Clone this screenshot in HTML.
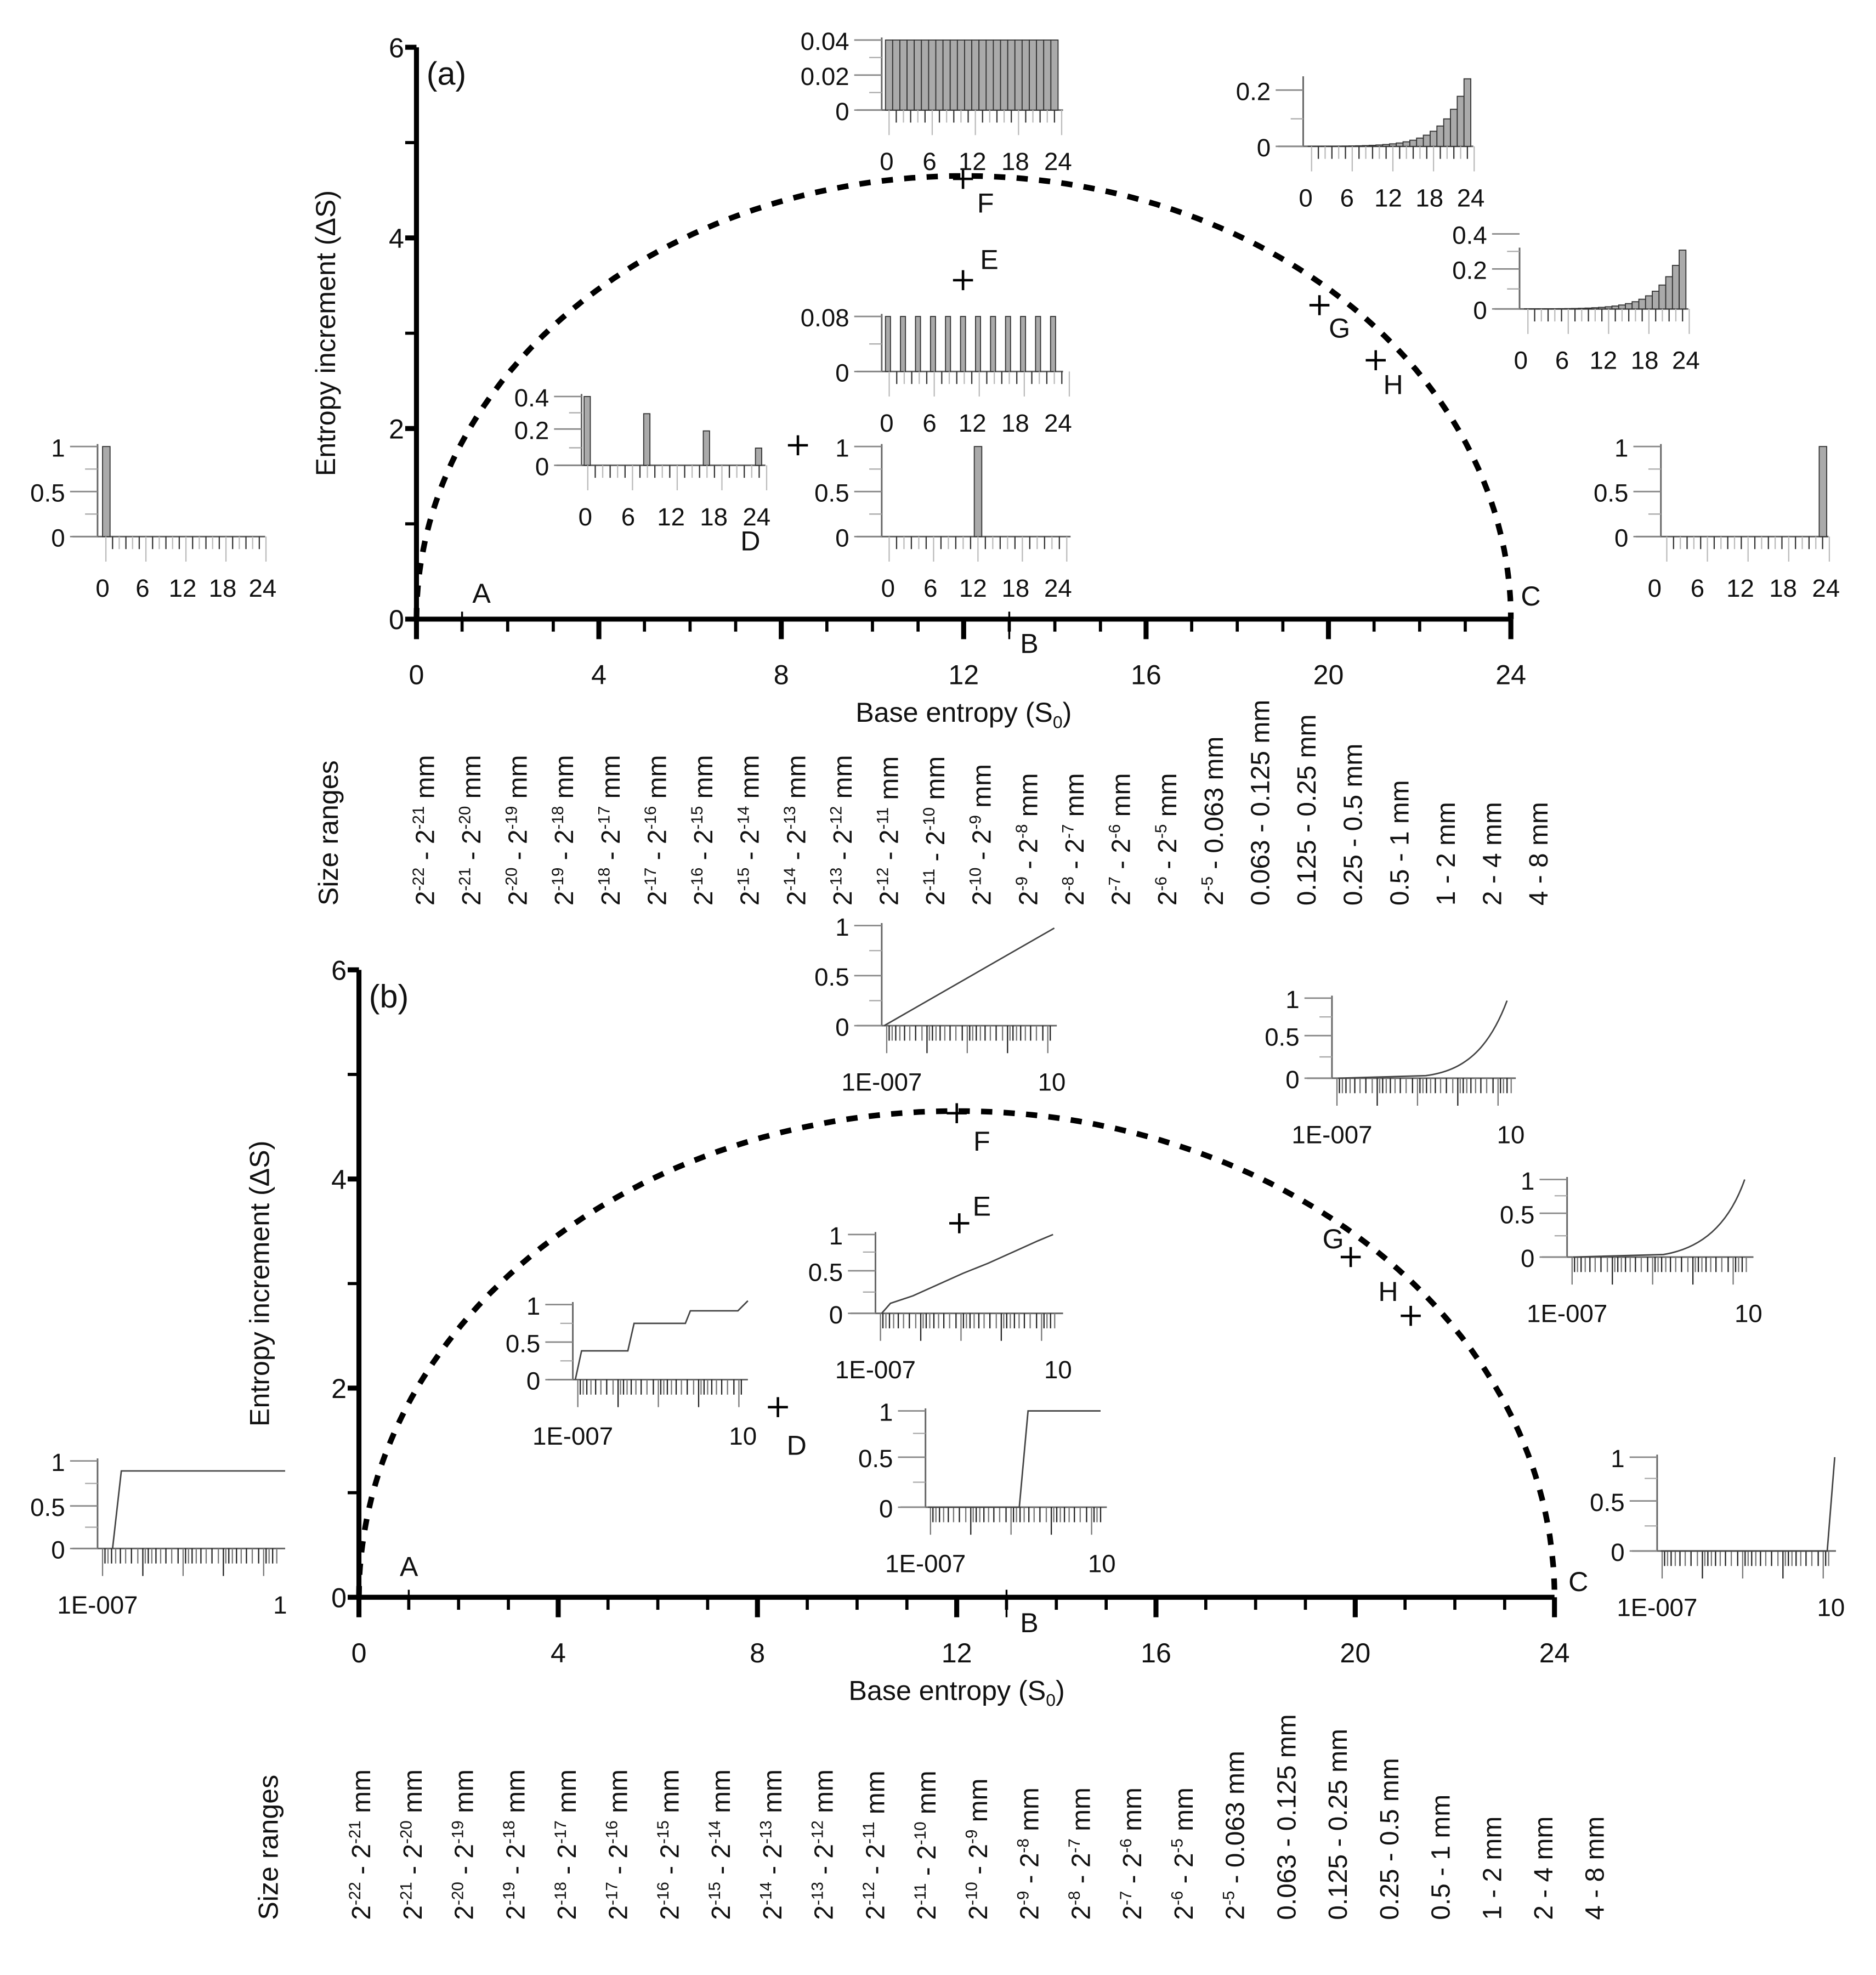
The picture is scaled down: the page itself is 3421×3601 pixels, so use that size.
<!DOCTYPE html>
<html><head><meta charset="utf-8"><style>
html,body{margin:0;padding:0;background:#fff;}
svg{display:block;}
text{font-family:"Liberation Sans",sans-serif;fill:#111;}
</style></head><body>
<svg id="s" width="3421" height="3601" viewBox="0 0 1500 1579" preserveAspectRatio="none" xmlns="http://www.w3.org/2000/svg"></svg>
<script>
const s=document.getElementById('s');let h='';
function T(x,y,t,sz,anc,extra){h+=`<text x="${x}" y="${y}" font-size="${sz||22}" text-anchor="${anc||'middle'}" ${extra||''}>${t}</text>`;}
function L(x1,y1,x2,y2,w,c){h+=`<line x1="${x1}" y1="${y1}" x2="${x2}" y2="${y2}" stroke="${c||'#000'}" stroke-width="${w||1}"/>`;}
function panel(o){
 const X=v=>o.x0+v*o.sx, Y=v=>o.y0-v*o.sy;
 // dashed curve (ellipse)
 let p='';for(let i=0;i<=200;i++){const t=Math.PI*i/200;const xx=12-12*Math.cos(t);const yy=4.65*Math.sin(t);p+=(i?'L':'M')+X(xx).toFixed(1)+' '+Y(yy).toFixed(1);}
 h+=`<path d="${p}" fill="none" stroke="#000" stroke-width="4.5" stroke-dasharray="9 9"/>`;
 L(o.x0,Y(6),o.x0,o.y0+2,4);L(o.x0-2,o.y0,X(24),o.y0,4);
 for(let v=0;v<=6;v++){L(o.x0-9,Y(v),o.x0,Y(v),v%2?2.5:4);if(v%2==0)T(o.x0-16,Y(v)+8,v,22,'middle');}
 for(let v=0;v<=24;v++){L(X(v),o.y0,X(v),o.y0+(v%4?10:16),v%4?2.5:4);if(v%4==0)T(X(v),o.y0+52,v,22);}
 L(X(1),o.y0-6,X(1),o.y0,1.5);L(X(13),o.y0-6,X(13),o.y0+16,1.5);
 T(o.x0+8,Y(6)+30,o.lab,26,'start');
 T(o.ly,(Y(6)+o.y0)/2,'Entropy increment (ΔS)',22,'middle',`transform="rotate(-90 ${o.ly} ${(Y(6)+o.y0)/2})"`);
 T(X(12),o.y0+82,'Base entropy (S<tspan font-size="14" dy="5">0</tspan><tspan dy="-5">)</tspan>',22);
 // size ranges
 const labs=[];for(let i=22;i>=7;i--)labs.push(`2<tspan font-size="13" dy="-8">-${i}</tspan><tspan dy="8"> - 2</tspan><tspan font-size="13" dy="-8">-${i-1}</tspan><tspan dy="8"> mm</tspan>`);
 labs.push('2<tspan font-size="13" dy="-8">-6</tspan><tspan dy="8"> - 2</tspan><tspan font-size="13" dy="-8">-5</tspan><tspan dy="8"> mm</tspan>');
 labs.push('2<tspan font-size="13" dy="-8">-5</tspan><tspan dy="8"> - 0.063 mm</tspan>');
 ['0.063 - 0.125 mm','0.125 - 0.25 mm','0.25 - 0.5 mm','0.5 - 1 mm','1 - 2 mm','2 - 4 mm','4 - 8 mm'].forEach(a=>labs.push(a));
 T(o.sr,o.sb,'Size ranges',22,'start',`transform="rotate(-90 ${o.sr} ${o.sb})"`);
 labs.forEach((a,i)=>{const x=o.s0+i*o.ss;T(x,o.sb,a,21,'start',`transform="rotate(-90 ${x} ${o.sb})"`);});
 o.pts.forEach(q=>{const [px,py,l,lx,ly]=q;L(px-8,py,px+8,py,2);L(px,py-8,px,py+8,2);if(l)T(lx,ly,l,22);});
}
panel({x0:333,y0:495,sx:36.46,sy:76.2,lab:'(a)',ly:268,sr:270,sb:724,s0:347,ss:37.1,
 pts:[[770,143,'F',788,170],[770,224,'E',791,215],[1055,244,'G',1071,270],[1100,288,'H',1114,315],[638,356,'D',600,440],[0,0,'A',385,482],[0,0,'B',823,522],[0,0,'C',1224,484]].filter(p=>p[0])});
// letters A B C
T(385,482,'A',22);T(823,522,'B',22);T(1224,484,'C',22);
panel({x0:287,y0:1277,sx:39.83,sy:83.6,lab:'(b)',ly:215,sr:222,sb:1535,s0:296,ss:41.1,
 pts:[[765,890,'F',785,920],[767,978,'E',785,972],[1080,1005,'G',1066,998],[1128,1052,'H',1110,1040],[622,1125,'D',637,1163]]});
T(327,1260,'A',22);T(823,1305,'B',22);T(1262,1272,'C',22);

// insets
function inset(c){
 const g='#666';
 L(c.ax,c.yt-2,c.ax,c.y0,1.3,g);L(c.ax-20,c.y0,c.x1,c.y0,1.3,g);
 c.yl.forEach(a=>{L(c.ax-22,a[1],c.ax,a[1],1.2,'#888');T(c.ax-26,a[1]+8,a[0],20,'end');});
 if(c.ym)c.ym.forEach(y=>L(c.ax-10,y,c.ax,y,1,'#aaa'));
 if(c.bars){
  const w=(c.bx1-c.bx0)/24;
  c.bars.forEach((v,i)=>{if(v<=0)return;const hh=v*(c.y0-c.yt)/c.vmax;h+=`<rect x="${c.bx0+i*w}" y="${c.y0-hh}" width="${(c.bw||w)}" height="${hh}" fill="#aaa" stroke="#333" stroke-width="0.8"/>`;});
  for(let i=0;i<=24;i++){const x=c.bx0+i*w+w/2;L(x,c.y0,x,c.y0+(i%6==0?20:10),1,i%2?'#333':'#bbb');}
  [0,6,12,18,24].forEach((v,i)=>T(c.lx0+(c.lx1-c.lx0)*i/4,c.y0+48,v,20));
 } else {
  // log ticks
  const n=c.x1-c.ax-8;let x=c.ax+4;let k=0;
  while(x<c.x1-3){const long=(k%9==0);L(x,c.y0,x,c.y0+(long?22:12),1,k%2?'#222':'#777');k++;x+= (k%9==0)?4:(1.5+(k%9)*0.45);}
  h+=`<path d="${c.path}" fill="none" stroke="#444" stroke-width="1.2"/>`;
  T(c.ax,c.y0+52,'1E-007',20);T(c.x1-4,c.y0+52,c.end||'10',20);
 }
}
const uni=Array(24).fill(1);
const exp=[...Array(24)].map((_,i)=>Math.pow(1.35,i)/Math.pow(1.35,23));
// panel a insets
inset({ax:78,x1:212,yt:357,y0:429,yl:[[1,357],[0.5,393],[0,429]],ym:[375,411],bars:[1].concat(Array(23).fill(0)),vmax:1,bx0:82,bx1:210,bw:6,lx0:82,lx1:210});
inset({ax:705,x1:850,yt:32,y0:88,yl:[['0.04',32],['0.02',60],[0,88]],ym:[46,74],bars:uni,vmax:1,bx0:708,bx1:846,lx0:709,lx1:846});
inset({ax:1042,x1:1178,yt:63,y0:117,yl:[['0.2',72],[0,117]],ym:[95],bars:exp,vmax:1,bx0:1046,bx1:1176,lx0:1044,lx1:1176});
inset({ax:1215,x1:1350,yt:200,y0:247,yl:[['0.4',187],['0.2',215],[0,247]],ym:[201,231],bars:exp,vmax:1,bx0:1219,bx1:1348,lx0:1216,lx1:1348});
inset({ax:705,x1:850,yt:253,y0:297,yl:[['0.08',253],[0,297]],ym:[275],bars:uni.map((v,i)=>i%2?0:1),vmax:1,bx0:708,bx1:852,bw:4,lx0:709,lx1:846});
inset({ax:465,x1:612,yt:317,y0:372,yl:[['0.4',317],['0.2',343],[0,372]],ym:[330,358],bars:uni.map((v,i)=>i==0?.4:i==8?.3:i==16?.2:i==23?.1:0),vmax:.4,bx0:467,bx1:610,bw:5,lx0:468,lx1:605});
inset({ax:705,x1:856,yt:357,y0:429,yl:[[1,357],['0.5',393],[0,429]],ym:[375,411],bars:uni.map((v,i)=>i==12?1:0),vmax:1,bx0:708,bx1:850,bw:6,lx0:710,lx1:846});
inset({ax:1328,x1:1462,yt:357,y0:429,yl:[[1,357],['0.5',393],[0,429]],ym:[375,411],bars:uni.map((v,i)=>i==23?1:0),vmax:1,bx0:1330,bx1:1460,bw:6,lx0:1323,lx1:1460});
// panel b insets
inset({ax:78,x1:228,yt:1168,y0:1238,yl:[[1,1168],['0.5',1204],[0,1238]],ym:[1186,1221],path:'M90 1238 L97 1176 L228 1176',end:'1'});
inset({ax:705,x1:845,yt:740,y0:820,yl:[[1,740],['0.5',780],[0,820]],ym:[760,800],path:'M707 820 L843 742'});
inset({ax:1065,x1:1212,yt:798,y0:862,yl:[[1,798],['0.5',828],[0,862]],ym:[813,845],path:'M1070 862 L1140 860 C1170 856 1190 840 1205 800'});
inset({ax:1253,x1:1402,yt:943,y0:1005,yl:[[1,943],['0.5',970],[0,1005]],ym:[956,988],path:'M1258 1005 L1330 1003 C1360 998 1382 980 1395 943'});
inset({ax:700,x1:850,yt:987,y0:1050,yl:[[1,987],['0.5',1016],[0,1050]],ym:[1001,1033],path:'M705 1050 L712 1042 L730 1036 L750 1027 L770 1018 L790 1010 L810 1001 L830 992 L842 987'});
inset({ax:458,x1:598,yt:1043,y0:1103,yl:[[1,1043],['0.5',1073],[0,1103]],ym:[1058,1088],path:'M460 1103 L465 1080 L502 1080 L507 1058 L548 1058 L552 1048 L590 1048 L598 1040'});
inset({ax:740,x1:885,yt:1128,y0:1205,yl:[[1,1128],['0.5',1165],[0,1205]],ym:[1146,1185],path:'M742 1205 L815 1205 L822 1128 L880 1128'});
inset({ax:1325,x1:1468,yt:1165,y0:1240,yl:[[1,1165],['0.5',1200],[0,1240]],ym:[1182,1220],path:'M1328 1240 L1461 1240 L1467 1165'});
s.innerHTML=h;
</script>
</body></html>
